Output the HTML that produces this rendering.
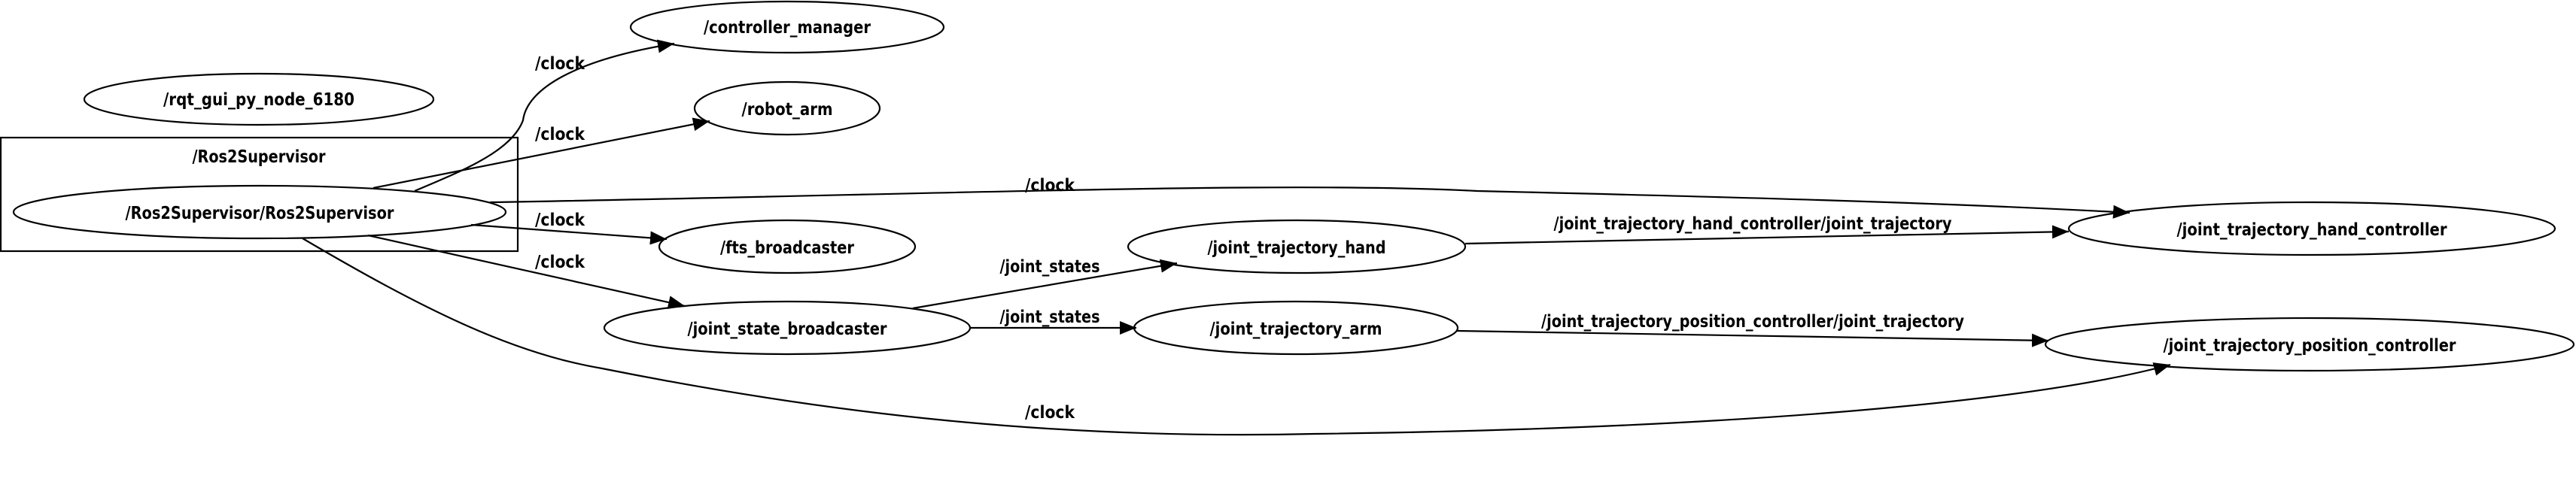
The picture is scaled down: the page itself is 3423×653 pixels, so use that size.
<!DOCTYPE html>
<html><head><meta charset="utf-8"><style>
html,body{margin:0;padding:0;background:#fff;}
svg{display:block;}
text{font-family:"DejaVu Sans","Liberation Sans",sans-serif;font-weight:bold;font-size:23px;fill:#000;}
</style></head><body>
<svg width="3423" height="653" viewBox="0 0 3423 653" xmlns="http://www.w3.org/2000/svg">
<defs>
<marker id="a" markerUnits="userSpaceOnUse" markerWidth="24" markerHeight="18" refX="22" refY="9" orient="auto">
<polygon points="0,0 22,9 0,18" fill="#000"/>
</marker>
</defs>
<g fill="none" stroke="#000" stroke-width="2.2">
<rect x="1" y="183" width="687" height="151"/>
<ellipse cx="1046" cy="36" rx="208" ry="34"/>
<ellipse cx="344" cy="132" rx="232" ry="34"/>
<ellipse cx="1046" cy="144" rx="123" ry="35"/>
<ellipse cx="345" cy="282" rx="327" ry="35"/>
<ellipse cx="1046" cy="328" rx="170" ry="35"/>
<ellipse cx="1046" cy="436" rx="243" ry="35"/>
<ellipse cx="1723" cy="328" rx="224" ry="35"/>
<ellipse cx="1722" cy="436" rx="215" ry="35"/>
<ellipse cx="3072" cy="304" rx="323" ry="35"/>
<ellipse cx="3069" cy="458" rx="351" ry="35"/>

<path d="M551,254 C620,225 680,200 695,160 C700,120 760,80 896,58" marker-end="url(#a)"/>
<path d="M496,250 L943,161" marker-end="url(#a)"/>
<path d="M651,269 C1200,260 1700,240 1963,254 C2300,262 2600,270 2830,283" marker-end="url(#a)"/>
<path d="M626,299 L886,318" marker-end="url(#a)"/>
<path d="M489,313 L910,407" marker-end="url(#a)"/>
<path d="M402,317 C560,410 680,470 800,490 C1100,550 1400,585 1747,577 C2300,570 2700,535 2884,485" marker-end="url(#a)"/>
<path d="M1213,410 L1564,350" marker-end="url(#a)"/>
<path d="M1289,436 L1510,436" marker-end="url(#a)"/>
<path d="M1947,324 L2749,308" marker-end="url(#a)"/>
<path d="M1936,440 L2722,453" marker-end="url(#a)"/>
</g>
<g text-anchor="middle">
<text x="1046" y="44" textLength="222" lengthAdjust="spacingAndGlyphs">/controller_manager</text>
<text x="344" y="140" textLength="254" lengthAdjust="spacingAndGlyphs">/rqt_gui_py_node_6180</text>
<text x="1046" y="153" textLength="121" lengthAdjust="spacingAndGlyphs">/robot_arm</text>
<text x="344" y="216" textLength="177" lengthAdjust="spacingAndGlyphs">/Ros2Supervisor</text>
<text x="345" y="291" textLength="357" lengthAdjust="spacingAndGlyphs">/Ros2Supervisor/Ros2Supervisor</text>
<text x="1046" y="337" textLength="178" lengthAdjust="spacingAndGlyphs">/fts_broadcaster</text>
<text x="1046" y="445" textLength="265" lengthAdjust="spacingAndGlyphs">/joint_state_broadcaster</text>
<text x="1723" y="337" textLength="237" lengthAdjust="spacingAndGlyphs">/joint_trajectory_hand</text>
<text x="1722" y="445" textLength="229" lengthAdjust="spacingAndGlyphs">/joint_trajectory_arm</text>
<text x="3072" y="313" textLength="359" lengthAdjust="spacingAndGlyphs">/joint_trajectory_hand_controller</text>
<text x="3069" y="467" textLength="389" lengthAdjust="spacingAndGlyphs">/joint_trajectory_position_controller</text>
<text x="744" y="92" textLength="66" lengthAdjust="spacingAndGlyphs">/clock</text>
<text x="744" y="186" textLength="66" lengthAdjust="spacingAndGlyphs">/clock</text>
<text x="744" y="300" textLength="66" lengthAdjust="spacingAndGlyphs">/clock</text>
<text x="744" y="356" textLength="66" lengthAdjust="spacingAndGlyphs">/clock</text>
<text x="1395" y="254" textLength="66" lengthAdjust="spacingAndGlyphs">/clock</text>
<text x="1395" y="556" textLength="66" lengthAdjust="spacingAndGlyphs">/clock</text>
<text x="1395" y="362" textLength="133" lengthAdjust="spacingAndGlyphs">/joint_states</text>
<text x="1395" y="429" textLength="133" lengthAdjust="spacingAndGlyphs">/joint_states</text>
<text x="2329" y="305" textLength="529" lengthAdjust="spacingAndGlyphs">/joint_trajectory_hand_controller/joint_trajectory</text>
<text x="2329" y="435" textLength="562" lengthAdjust="spacingAndGlyphs">/joint_trajectory_position_controller/joint_trajectory</text>
</g>
</svg>
</body></html>
